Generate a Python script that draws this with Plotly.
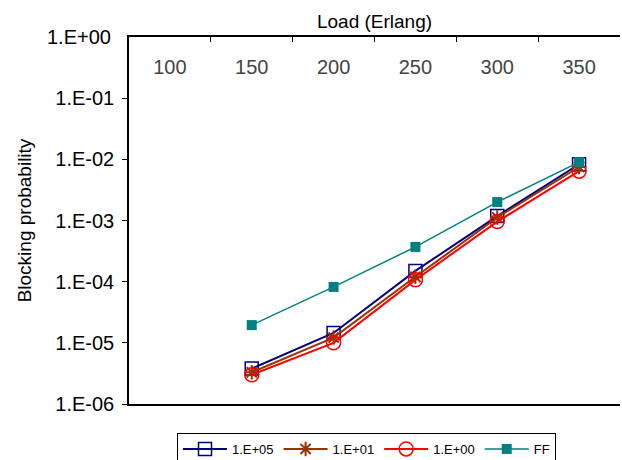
import plotly.graph_objects as go

loads = ["100", "150", "200", "250", "300", "350"]
x_pts = ["150", "200", "250", "300", "350"]
b_1e05 = [3.8e-6, 1.45e-5, 1.5e-4, 1.18e-3, 8.3e-3]
b_1e01 = [3.3e-6, 1.22e-5, 1.2e-4, 1.12e-3, 7.5e-3]
b_1e00 = [3.0e-6, 1.0e-5, 1.07e-4, 9.6e-4, 6.4e-3]
b_ff = [1.95e-5, 8.2e-5, 3.7e-4, 2.0e-3, 9.0e-3]
ytick_vals = [1, 1e-1, 1e-2, 1e-3, 1e-4, 1e-5, 1e-6]
ytick_text = ["1.E+00", "1.E-01", "1.E-02", "1.E-03", "1.E-04", "1.E-05", "1.E-06"]

FONT = "Liberation Sans, Arial, sans-serif"

fig = go.Figure()
fig.add_trace(go.Scatter(x=x_pts, y=b_1e05, name="1.E+05", mode="lines+markers",
                         line=dict(color="#000080", width=2),
                         marker=dict(symbol="square-open", size=13, color="#000080", line=dict(width=1.5))))
fig.add_trace(go.Scatter(x=x_pts, y=b_1e01, name="1.E+01", mode="lines+markers",
                         line=dict(color="#993300", width=2),
                         marker=dict(symbol="asterisk-open", size=12, color="#993300", line=dict(width=2, color="#993300"))))
fig.add_trace(go.Scatter(x=x_pts, y=b_1e00, name="1.E+00", mode="lines+markers",
                         line=dict(color="#FF0000", width=2),
                         marker=dict(symbol="circle-open", size=14, color="#FF0000", line=dict(width=1.5))))
fig.add_trace(go.Scatter(x=x_pts, y=b_ff, name="FF", mode="lines+markers",
                         line=dict(color="#008080", width=1.5),
                         marker=dict(symbol="square", size=10, color="#008080")))

fig.update_layout(
    width=622, height=460,
    margin=dict(l=129, r=2, t=37, b=56, autoexpand=False),
    paper_bgcolor="white", plot_bgcolor="white",
    font=dict(family=FONT, size=20, color="black"),
    showlegend=True,
    legend=dict(orientation="h", x=(177 - 129) / 491, xanchor="left", y=(404 - 433) / 367, yanchor="top",
                bordercolor="black", borderwidth=1, bgcolor="white",
                itemwidth=44,
                font=dict(size=13, family=FONT), traceorder="normal"),
    xaxis=dict(
        type="category", categoryorder="array", categoryarray=loads, range=[-0.5, len(loads) - 0.5],
        side="top",
        showline=True, linecolor="black", linewidth=1.5, mirror=True,
        ticks="inside", ticklen=5, tickcolor="black", tickson="boundaries",
        ticklabelposition="inside", ticklabelstandoff=19, automargin=False,
        showgrid=False, zeroline=False,
        title=dict(text="Load (Erlang)", standoff=22, font=dict(size=19)),
        tickfont=dict(size=20),
    ),
    yaxis=dict(
        type="log", range=[-6, 0], tickvals=ytick_vals, ticktext=ytick_text,
        showline=True, linecolor="black", linewidth=1.5,
        ticks="outside", ticklen=5, tickcolor="black", automargin=False,
        ticklabelstandoff=4,
        showgrid=False, zeroline=False,
        title=dict(text="Blocking probability", standoff=14, font=dict(size=19)),
        tickfont=dict(size=20),
    ),
)

# Plotly hides the y label at the top corner when the top axis has inside labels;
# restore it as text placed at the same axis value.
fig.add_annotation(text=ytick_text[0], xref="paper", x=0, xanchor="right", xshift=-16,
                   yref="y", y=0, yanchor="middle", showarrow=False,
                   font=dict(size=20, family=FONT, color="black"))

fig.write_html("out.html", config={"displayModeBar": False},
               post_script="document.body.style.margin='0';")
